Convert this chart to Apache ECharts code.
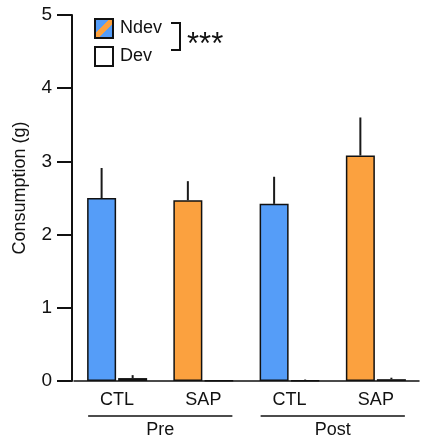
<!DOCTYPE html>
<html>
<head>
<meta charset="utf-8">
<script src="https://cdn.jsdelivr.net/npm/echarts@6/dist/echarts.min.js"></script>
<style>
  html, body { margin: 0; padding: 0; background: #fff; }
  #chart { width: 424px; height: 440px; }
</style>
</head>
<body>
<div id="chart"></div>
<script>
// Sucrose consumption by condition, before and after lesion
const conditions = ['CTL', 'SAP', 'CTL', 'SAP'];
const phases = ['Pre', 'Post'];
const ndevMean = [2.50, 2.47, 2.42, 3.08];
const ndevErr  = [0.41, 0.26, 0.37, 0.52];
const devMean  = [0.04, 0.005, 0.01, 0.025];
const devErr   = [0.04, 0.0, 0.01, 0.02];
const yTicks = [0, 1, 2, 3, 4, 5];

const BLUE = '#559DF8';
const ORANGE = '#FBA13F';
const FONT = 'Liberation Sans, Arial, Helvetica, sans-serif';
const BAR_W = 29;
const BAR_GAP = '7%';

const ndevColors = conditions.map(c => (c === 'CTL' ? BLUE : ORANGE));

const chart = echarts.init(document.getElementById('chart'));

function errorSeries(name, means, errs, barIndex) {
  return {
    type: 'custom',
    name: name + ' SEM',
    z: 1,
    silent: true,
    renderItem: function (params, api) {
      const cat = api.value(0);
      const top = api.value(1) + api.value(2);
      const layout = api.barLayout({ barWidth: BAR_W, barGap: BAR_GAP, count: 2 });
      const off = layout[barIndex].offsetCenter;
      const p0 = api.coord([cat, api.value(1)]);
      const p1 = api.coord([cat, top]);
      return {
        type: 'line',
        shape: { x1: p0[0] + off, y1: p0[1], x2: p1[0] + off, y2: p1[1] },
        style: { stroke: '#1a1a1a', lineWidth: 2 }
      };
    },
    data: means.map((m, i) => [i, m, errs[i]])
  };
}

const option = {
  animation: false,
  textStyle: { fontFamily: FONT },
  grid: { left: 74, right: 5, top: 15, bottom: 59, outerBoundsMode: 'none', containLabel: false },
  legend: {
    orient: 'vertical',
    left: 89,
    top: 13,
    itemWidth: 18,
    itemHeight: 19,
    itemGap: 7,
    icon: 'rect',
    textStyle: { fontSize: 18, color: '#111', fontFamily: FONT, padding: [0, 0, 0, 2] },
    data: [
      {
        name: 'Ndev',
        itemStyle: {
          color: new echarts.graphic.LinearGradient(0, 0, 1, 1, [
            { offset: 0, color: BLUE },
            { offset: 0.4, color: BLUE },
            { offset: 0.4, color: ORANGE },
            { offset: 0.6, color: ORANGE },
            { offset: 0.6, color: BLUE },
            { offset: 1, color: BLUE }
          ]),
          borderColor: '#111',
          borderWidth: 2
        }
      },
      {
        name: 'Dev',
        itemStyle: { color: '#fff', borderColor: '#111', borderWidth: 2 }
      }
    ]
  },
  xAxis: [
    {
      type: 'category',
      data: conditions,
      axisLine: { lineStyle: { color: '#111', width: 1.5 } },
      axisTick: { show: false },
      axisLabel: { color: '#111', fontSize: 18, margin: 10, fontFamily: FONT }
    },
    {
      type: 'category',
      data: phases,
      position: 'bottom',
      axisLine: { show: false },
      axisTick: { show: false },
      axisLabel: { color: '#111', fontSize: 18, margin: 40, fontFamily: FONT }
    }
  ],
  yAxis: {
    type: 'value',
    min: 0,
    max: 5,
    interval: 1,
    offset: 2,
    name: 'Consumption (g)',
    nameLocation: 'middle',
    nameGap: 43,
    nameTextStyle: { color: '#111', fontSize: 18, fontFamily: FONT, padding: [0, 0, 0, 20] },
    axisLine: { show: true, lineStyle: { color: '#111', width: 2 } },
    axisTick: { show: true, length: 15, lineStyle: { color: '#111', width: 2 } },
    axisLabel: {
      color: '#111', fontSize: 19, margin: 20, fontFamily: FONT,
      formatter: v => (yTicks.includes(v) ? String(v) : '')
    },
    splitLine: { show: false }
  },
  series: [
    errorSeries('Ndev', ndevMean, ndevErr, 0),
    errorSeries('Dev', devMean, devErr, 1),
    {
      name: 'Ndev',
      type: 'bar',
      z: 2,
      barWidth: BAR_W,
      barGap: BAR_GAP,
      itemStyle: { color: BLUE, borderColor: '#111', borderWidth: 1.5 },
      data: ndevMean.map((v, i) => ({ value: v, itemStyle: { color: ndevColors[i] } }))
    },
    {
      name: 'Dev',
      type: 'bar',
      z: 2,
      barWidth: BAR_W,
      barGap: BAR_GAP,
      itemStyle: { color: '#fff', borderColor: '#111', borderWidth: 1.5 },
      data: devMean
    }
  ]
};

chart.setOption(option);

// Group underlines spanning each phase's two conditions, plus the significance bracket
function decorate() {
  const halfSpan = 29;
  const lineY = 416;
  const lines = [[0, 1], [2, 3]].map(pair => {
    const xa = chart.convertToPixel({ xAxisIndex: 0 }, pair[0]);
    const xb = chart.convertToPixel({ xAxisIndex: 0 }, pair[1]);
    return {
      type: 'line',
      shape: { x1: xa - halfSpan, y1: lineY, x2: xb + halfSpan, y2: lineY },
      style: { stroke: '#111', lineWidth: 1.5 }
    };
  });
  chart.setOption({
    graphic: lines.concat([
      {
        type: 'polyline',
        shape: { points: [[171, 23], [180, 23], [180, 50], [171, 50]] },
        style: { stroke: '#111', lineWidth: 2, fill: null }
      },
      {
        type: 'text',
        x: 187,
        y: 45,
        style: { text: '***', fontSize: 31, fontFamily: FONT, fill: '#111', textVerticalAlign: 'middle' }
      }
    ])
  });
}
decorate();
</script>
</body>
</html>
